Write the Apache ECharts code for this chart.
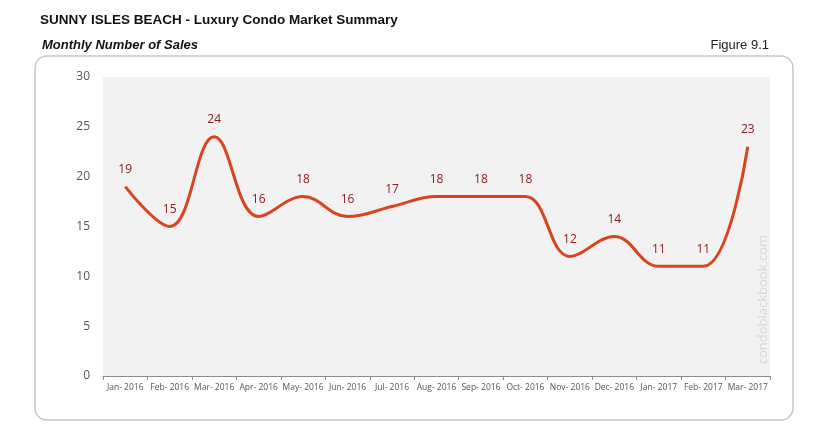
<!DOCTYPE html>
<html>
<head>
<meta charset="utf-8">
<script src="https://cdn.jsdelivr.net/npm/echarts@6/dist/echarts.min.js"></script>
<style>
  html, body { margin: 0; padding: 0; background: #fff; }
  #chart { width: 821px; height: 430px; }
</style>
</head>
<body>
<div id="chart"></div>
<script>
// monthly sales, Jan 2016 - Mar 2017
var months = ['Jan- 2016', 'Feb- 2016', 'Mar- 2016', 'Apr- 2016', 'May- 2016', 'Jun- 2016', 'Jul- 2016',
  'Aug- 2016', 'Sep- 2016', 'Oct- 2016', 'Nov- 2016', 'Dec- 2016', 'Jan- 2017', 'Feb- 2017', 'Mar- 2017']
var sales = [19, 15, 24, 16, 18, 16, 17, 18, 18, 18, 12, 14, 11, 11, 23]

var chart = echarts.init(document.getElementById('chart'))
var option = {
  backgroundColor: '#fff',
  title: [
    {
      text: 'SUNNY ISLES BEACH - Luxury Condo Market Summary',
      left: 35,
      top: 8,
      textStyle: { fontFamily: 'Arial', fontSize: 13.5, fontWeight: 'bold', color: '#111' }
    },
    {
      text: 'Monthly Number of Sales',
      left: 37,
      top: 34,
      textStyle: { fontFamily: 'Arial', fontSize: 13, fontWeight: 'bold', fontStyle: 'italic', color: '#111' }
    },
    {
      text: 'Figure 9.1',
      right: 47,
      top: 34,
      textStyle: { fontFamily: 'Arial', fontSize: 13, fontWeight: 'normal', color: '#222' }
    }
  ],
  graphic: [
    {
      type: 'rect',
      z: -10,
      shape: { x: 35, y: 56, width: 758, height: 364, r: 12 },
      style: { fill: '#fff', stroke: '#c8c8c8', lineWidth: 1.5 }
    },
    {
      type: 'text',
      z: 10,
      left: 757,
      top: 235,
      rotation: Math.PI / 2,
      style: {
        text: 'condoblackbook.com',
        fill: '#d6d6d6',
        font: '13px "Open Sans", sans-serif'
      }
    }
  ],
  grid: {
    left: 103,
    right: 51,
    top: 77,
    bottom: 54,
    show: true,
    backgroundColor: '#f2f2f2',
    borderWidth: 0
  },
  xAxis: {
    type: 'category',
    data: months,
    boundaryGap: true,
    axisLine: { lineStyle: { color: '#8c8c8c' } },
    axisTick: { show: true, alignWithLabel: false, length: 4, lineStyle: { color: '#8c8c8c' } },
    axisLabel: { interval: 0, color: '#555', fontSize: 8.5, fontFamily: 'Open Sans', margin: 7 }
  },
  yAxis: {
    type: 'value',
    min: 0,
    max: 30,
    interval: 5,
    splitLine: { show: false },
    axisLine: { show: false },
    axisTick: { show: false },
    axisLabel: { color: '#555', fontSize: 12, fontFamily: 'Open Sans', margin: 13 }
  },
  series: [
    {
      name: 'Sales',
      type: 'line',
      data: sales,
      smooth: 0.4,
      symbol: 'circle',
      symbolSize: 2,
      showSymbol: true,
      itemStyle: { color: 'rgba(0,0,0,0)', borderWidth: 0 },
      lineStyle: { color: '#d9441c', width: 3 },
      label: {
        show: true,
        position: 'top',
        distance: 10,
        color: '#8b1c22',
        fontSize: 12,
        fontFamily: 'Open Sans'
      }
    }
  ]
}
chart.setOption(option)
</script>
</body>
</html>
